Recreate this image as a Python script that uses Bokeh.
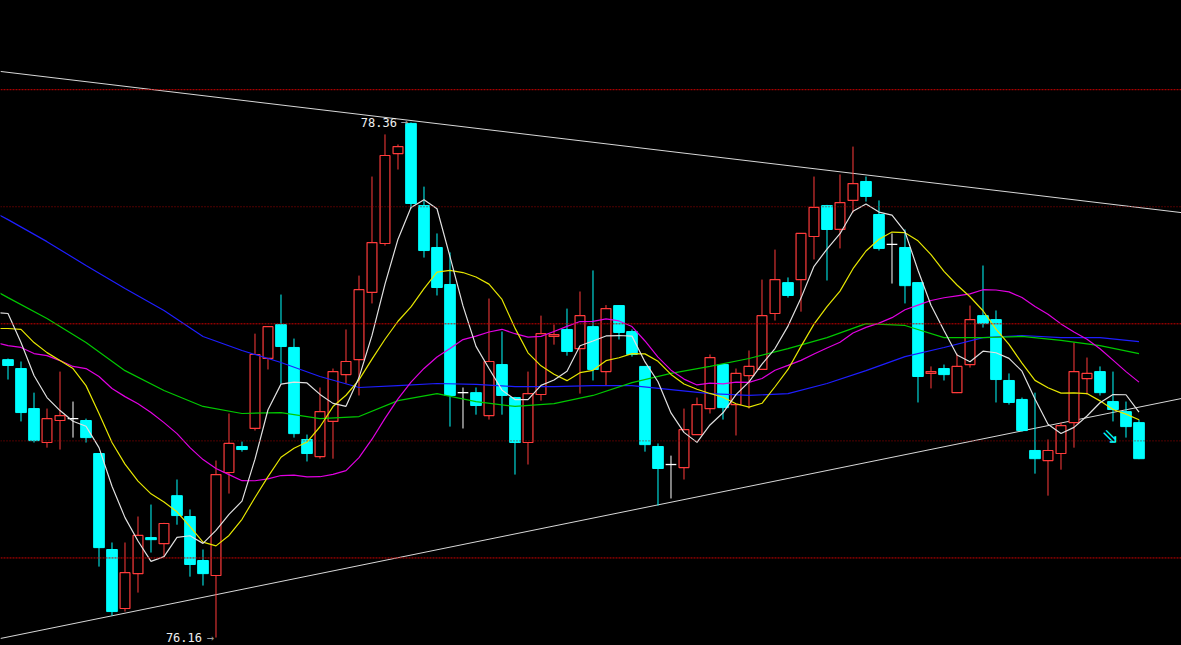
import numpy as np
import pandas as pd
from bokeh.plotting import figure
from bokeh.models import ColumnDataSource, Span, Range1d
from bokeh.core.properties import value
from bokeh.embed import file_html
from bokeh.resources import INLINE
from bokeh.core.templates import get_env

# ---------------- data ----------------
opens = [77.347, 77.309, 77.138, 76.993, 77.087, 77.095, 77.087, 76.946, 76.536, 76.284,
         76.433, 76.587, 76.561, 76.766, 76.677, 76.489, 76.425, 76.865, 76.976, 77.053,
         77.352, 77.497, 77.399, 77.006, 76.933, 77.083, 77.283, 77.347, 77.634, 77.843,
         78.227, 78.356, 78.005, 77.826, 77.668, 77.206, 77.206, 77.108, 77.326, 77.185,
         76.993, 77.198, 77.446, 77.476, 77.394, 77.488, 77.296, 77.578, 77.467, 77.318,
         76.976, 76.899, 76.886, 77.027, 77.138, 77.326, 77.155, 77.279, 77.305, 77.544,
         77.676, 77.689, 77.873, 78.005, 77.903, 78.027, 78.108, 77.967, 77.839, 77.826,
         77.676, 77.288, 77.309, 77.206, 77.326, 77.535, 77.518, 77.258, 77.177, 76.959,
         76.916, 76.946, 77.078, 77.266, 77.296, 77.168, 77.125, 77.078]
highs = [77.352, 77.339, 77.206, 77.138, 77.296, 77.168, 77.095, 76.948, 76.566, 76.566,
         76.677, 76.728, 76.650, 76.835, 76.707, 76.536, 76.916, 77.117, 76.997, 77.458,
         77.490, 77.625, 77.437, 77.027, 77.228, 77.309, 77.476, 77.706, 78.129, 78.309,
         78.266, 78.360, 78.086, 77.886, 77.805, 77.228, 77.228, 77.608, 77.467, 77.188,
         77.296, 77.535, 77.497, 77.565, 77.638, 77.728, 77.580, 77.580, 77.476, 77.320,
         76.989, 76.937, 77.138, 77.185, 77.369, 77.328, 77.309, 77.386, 77.689, 77.817,
         77.698, 77.888, 78.129, 78.008, 78.138, 78.257, 78.129, 78.027, 77.886, 77.903,
         77.678, 77.318, 77.326, 77.373, 77.578, 77.749, 77.557, 77.288, 77.185, 77.206,
         77.006, 77.078, 77.420, 77.356, 77.318, 77.296, 77.168, 77.091]
lows = [77.262, 77.083, 76.993, 76.971, 76.963, 77.014, 76.993, 76.463, 76.254, 76.271,
        76.352, 76.523, 76.506, 76.642, 76.420, 76.382, 76.160, 76.775, 76.954, 77.044,
        77.305, 77.245, 77.014, 76.912, 76.924, 76.924, 77.245, 77.194, 77.587, 77.834,
        78.159, 77.992, 77.783, 77.621, 77.061, 77.053, 77.112, 77.091, 77.112, 76.856,
        76.899, 77.172, 77.411, 77.364, 77.202, 77.258, 77.236, 77.433, 77.360, 76.954,
        76.724, 76.754, 76.835, 77.025, 77.117, 77.091, 77.023, 77.138, 77.303, 77.514,
        77.612, 77.552, 77.775, 77.685, 77.822, 77.975, 78.022, 77.813, 77.672, 77.587,
        77.164, 77.224, 77.258, 77.204, 77.313, 77.484, 77.164, 77.155, 77.040, 76.860,
        76.766, 76.877, 76.971, 77.198, 77.194, 77.083, 77.014, 76.922]
closes = [77.322, 77.121, 77.001, 77.095, 77.108, 77.095, 77.014, 76.544, 76.271, 76.437,
          76.596, 76.578, 76.647, 76.681, 76.472, 76.433, 76.856, 76.989, 76.963, 77.369,
          77.488, 77.403, 77.031, 76.946, 77.125, 77.296, 77.339, 77.646, 77.847, 78.219,
          78.257, 78.014, 77.813, 77.655, 77.194, 77.206, 77.151, 77.339, 77.194, 76.993,
          77.202, 77.458, 77.454, 77.382, 77.535, 77.305, 77.565, 77.463, 77.369, 76.984,
          76.882, 76.899, 77.048, 77.155, 77.356, 77.142, 77.288, 77.318, 77.535, 77.689,
          77.621, 77.886, 77.997, 77.903, 78.018, 78.099, 78.044, 77.822, 77.839, 77.663,
          77.275, 77.296, 77.283, 77.318, 77.518, 77.501, 77.262, 77.164, 77.044, 76.924,
          76.959, 77.065, 77.296, 77.288, 77.206, 77.134, 77.061, 76.924]

# moving averages before a full window is available, bars -1 ...
ma5_head = [77.548, 77.544, 77.420, 77.279, 77.185]
ma10_head = [77.480, 77.480, 77.476, 77.420, 77.377, 77.343, 77.309, 77.236, 77.117, 76.993]
ma20_head = [77.420, 77.407, 77.399, 77.373, 77.364, 77.343, 77.318, 77.309, 77.275, 77.224,
             77.189, 77.159, 77.121, 77.078, 77.031, 76.971, 76.920, 76.882, 76.856, 76.830]

# long averages at every third bar
ma_long_idx = [-1, 0, 3, 6, 9, 12, 15, 18, 21, 24, 27, 30, 33, 36, 39, 42, 45, 48, 51, 54,
               57, 60, 63, 66, 69, 72, 75, 78, 81, 84, 87]
ma_green = [77.642, 77.612, 77.523, 77.420, 77.300, 77.215, 77.147, 77.117, 77.121, 77.095,
            77.104, 77.172, 77.202, 77.168, 77.147, 77.159, 77.194, 77.249, 77.288, 77.318,
            77.352, 77.394, 77.441, 77.501, 77.493, 77.441, 77.441, 77.446, 77.429, 77.407,
            77.373]
ma_blue = [77.975, 77.945, 77.851, 77.749, 77.651, 77.557, 77.446, 77.386, 77.335, 77.275,
           77.228, 77.236, 77.245, 77.241, 77.232, 77.232, 77.236, 77.236, 77.219, 77.202,
           77.194, 77.202, 77.245, 77.300, 77.360, 77.399, 77.441, 77.450, 77.441, 77.441,
           77.424]

grid_major = [78.5, 77.5, 76.5]
grid_minor = [78.0, 77.0]

# drawn trend lines (bar index, price)
trend_upper_x = [-0.58, 90.27]
trend_upper_y = [78.578, 77.975]
trend_lower_x = [-0.58, 90.27]
trend_lower_y = [76.156, 77.181]

hi_idx, hi_label = 31, "78.36"
lo_idx, lo_label = 16, "76.16"
signal_idx, signal_price = 84.8, 77.02

# ---------------- figure ----------------
W, H = 1181, 645
p = figure(width=W, height=H, output_backend="svg", toolbar_location=None,
           x_range=Range1d(-0.577, 90.27), y_range=Range1d(76.126, 78.881),
           background_fill_color="black", border_fill_color="black",
           min_border=0, min_border_left=0, min_border_right=0,
           min_border_top=0, min_border_bottom=0)
p.axis.visible = False
p.xgrid.visible = False
p.ygrid.visible = False
p.outline_line_color = None

RED = "#ff3b3b"
CYAN = "#00ffff"

for lv in grid_major:
    p.add_layout(Span(location=lv, dimension="width", line_color="#cc0000",
                      line_width=1, line_dash="2 1"))
for lv in grid_minor:
    p.add_layout(Span(location=lv, dimension="width", line_color="#a00000",
                      line_width=1, line_dash="1 2"))

# trend lines
p.line(trend_upper_x, trend_upper_y, line_color="#d8d8d8", line_width=1)
p.line(trend_lower_x, trend_lower_y, line_color="#d8d8d8", line_width=1)

# candles
n = len(closes)
idx = np.arange(n)
o = np.array(opens); c = np.array(closes); h = np.array(highs); l = np.array(lows)
up = c > o
dn = c < o
dj = c == o
BW = 0.82

src_dn = ColumnDataSource(dict(x=idx[dn], o=o[dn], c=c[dn], h=h[dn], l=l[dn]))
p.segment(x0="x", y0="h", x1="x", y1="l", source=src_dn, line_color=CYAN, line_width=1)
p.vbar(x="x", width=BW, top="o", bottom="c", source=src_dn,
       fill_color=CYAN, line_color=CYAN, line_width=1)

src_up = ColumnDataSource(dict(x=idx[up], o=o[up], c=c[up], h=h[up], l=l[up]))
p.segment(x0="x", y0="h", x1="x", y1="c", source=src_up, line_color=RED, line_width=1)
p.segment(x0="x", y0="o", x1="x", y1="l", source=src_up, line_color=RED, line_width=1)
p.vbar(x="x", width=BW - 0.06, top="c", bottom="o", source=src_up,
       fill_color="black", line_color=RED, line_width=1.2)

src_dj = ColumnDataSource(dict(x=idx[dj], x0=idx[dj] - BW / 2, x1=idx[dj] + BW / 2,
                               o=o[dj], h=h[dj], l=l[dj]))
p.segment(x0="x", y0="h", x1="x", y1="l", source=src_dj, line_color="white", line_width=1)
p.segment(x0="x0", y0="o", x1="x1", y1="o", source=src_dj, line_color="white", line_width=1.3)

# moving averages
cs = pd.Series(closes)
def ma_line(win, head):
    vals = cs.rolling(win).mean().to_numpy()
    ys = list(head) + list(vals[win - 1:])
    xs = list(range(-1, n))
    return xs, ys

x5, y5 = ma_line(5, ma5_head)
x10, y10 = ma_line(10, ma10_head)
x20, y20 = ma_line(20, ma20_head)
p.line(ma_long_idx, ma_blue, line_color="#1e1eff", line_width=1.2)
p.line(ma_long_idx, ma_green, line_color="#00c800", line_width=1.2)
p.line(x20, y20, line_color="#e100e1", line_width=1.2)
p.line(x10, y10, line_color="#e6e600", line_width=1.2)
p.line(x5, y5, line_color="#e0e0e0", line_width=1.2)

# extreme labels
mono = value("DejaVu Sans Mono")
p.text(x=[hi_idx], y=[highs[hi_idx]], text=[hi_label], text_color="#f0f0f0",
       text_font=mono, text_font_size="12px", text_align="right",
       text_baseline="middle", x_offset=-14)
p.text(x=[hi_idx], y=[highs[hi_idx]], text=["→"], text_color="#9a9a9a",
       text_font=mono, text_font_size="12px", text_align="right",
       text_baseline="middle", x_offset=-3)
p.text(x=[lo_idx], y=[lows[lo_idx]], text=[lo_label], text_color="#f0f0f0",
       text_font=mono, text_font_size="12px", text_align="right",
       text_baseline="middle", x_offset=-14)
p.text(x=[lo_idx], y=[lows[lo_idx]], text=["→"], text_color="#9a9a9a",
       text_font=mono, text_font_size="12px", text_align="right",
       text_baseline="middle", x_offset=-2)

# signal arrow
p.text(x=[signal_idx], y=[signal_price], text=["⇘"], text_color=CYAN,
       text_font=value("DejaVu Sans"), text_font_size="21px", text_align="center",
       text_baseline="middle")

template = get_env().from_string(
    '{% extends "file.html" %}{% block preamble %}<style>html,body{background:#000;overflow:hidden;}</style>{% endblock %}')
open("out.html", "w").write(file_html(p, INLINE, template=template))
